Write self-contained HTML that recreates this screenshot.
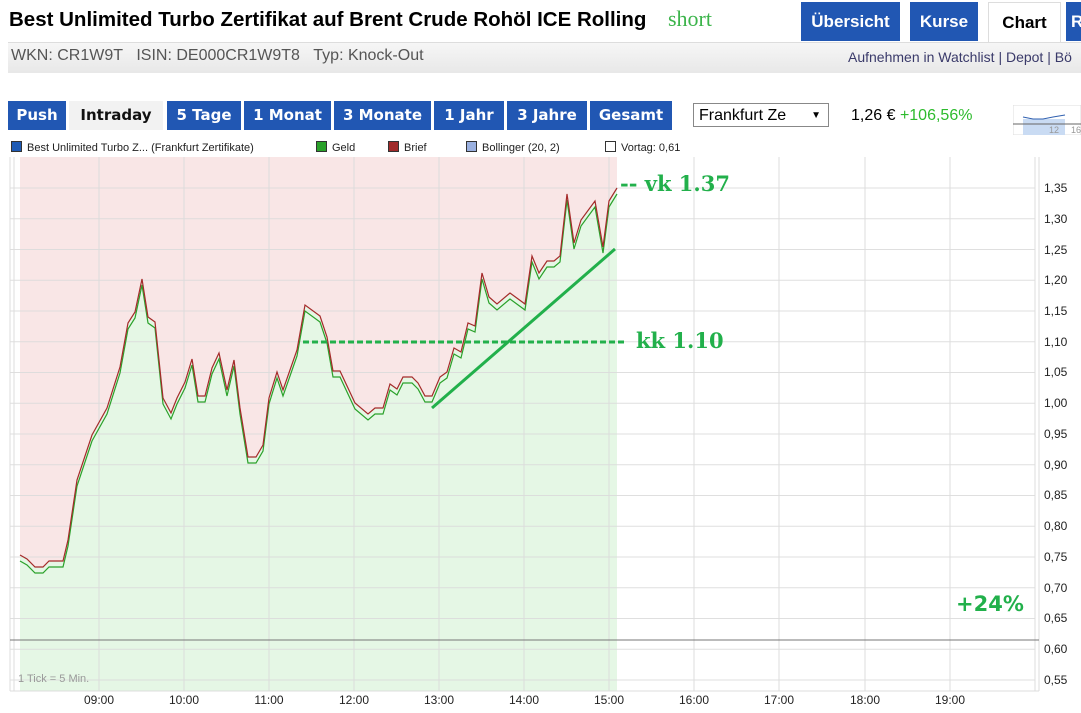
<!DOCTYPE html>
<html><head><meta charset="utf-8"><style>
body{margin:0;width:1081px;height:713px;overflow:hidden;background:#fff;font-family:"Liberation Sans",Arial,sans-serif;position:relative}
.a{position:absolute;white-space:nowrap}
.tab{position:absolute;background:#2157b3;color:#fff;font-weight:bold;font-size:17px;text-align:center;line-height:39px;top:2px;height:39px}
.pb{position:absolute;top:101px;height:29px;line-height:29px;background:#2157b3;color:#fff;font-weight:bold;font-size:15px;font-family:"DejaVu Sans",sans-serif;text-align:center}
.lg{position:absolute;top:141px;font-size:11px;color:#222}
.sq{display:inline-block;width:9px;height:9px;border:1px solid #333;margin-right:5px;vertical-align:-1px}
</style></head><body>
<div class="a" style="left:9px;top:8px;font-size:20.5px;font-weight:bold;color:#000">Best Unlimited Turbo Zertifikat auf Brent Crude Rohöl ICE Rolling</div>
<div class="a" style="left:668px;top:6px;font-size:22px;font-family:'Liberation Serif',serif;color:#3cb44b">short</div>
<div class="tab" style="left:801px;width:99px">Übersicht</div>
<div class="tab" style="left:910px;width:68px">Kurse</div>
<div class="tab" style="left:988px;width:71px;background:#fff;color:#000;border:1px solid #ddd;border-bottom:none">Chart</div>
<div class="tab" style="left:1066px;width:30px;text-align:left;padding-left:5px">Re</div>
<div class="a" style="left:8px;top:42px;width:1073px;height:30px;background:linear-gradient(#f6f6f6,#e8e8e8);border-top:1px solid #ddd"></div>
<div class="a" style="left:11px;top:47px;font-size:16px;color:#555">WKN: CR1W9T&nbsp;&nbsp;&nbsp;ISIN: DE000CR1W9T8&nbsp;&nbsp;&nbsp;Typ: Knock-Out</div>
<div class="a" style="left:848px;top:49px;font-size:14px;color:#3a3a6a">Aufnehmen in Watchlist | Depot | Bö</div>
<div class="pb" style="left:8px;width:58px">Push</div>
<div class="pb" style="left:69px;width:94px;background:#f2f2f2;color:#111">Intraday</div>
<div class="pb" style="left:167px;width:74px">5 Tage</div>
<div class="pb" style="left:244px;width:87px">1 Monat</div>
<div class="pb" style="left:334px;width:97px">3 Monate</div>
<div class="pb" style="left:434px;width:70px">1 Jahr</div>
<div class="pb" style="left:507px;width:80px">3 Jahre</div>
<div class="pb" style="left:590px;width:82px">Gesamt</div>
<div class="a" style="left:693px;top:103px;height:24px;border:1px solid #888;font-size:16px;line-height:24px;padding-left:5px;box-sizing:border-box;width:136px">Frankfurt Ze<span style="position:absolute;right:7px;font-size:10px">▼</span></div>
<div class="a" style="left:851px;top:107px;font-size:16px">1,26 € <span style="color:#2dbb2d">+106,56%</span></div>
<svg class="a" style="left:1013px;top:105px" width="68" height="30"><rect x="0" y="0" width="68" height="30" fill="#fff" stroke="#ddd"/><rect x="10" y="14" width="42" height="16" fill="#c9dbf3"/><polyline points="10,12 20,14 30,14 40,12 52,10" fill="none" stroke="#3060b0"/><line x1="0" y1="19" x2="68" y2="19" stroke="#666"/><text x="36" y="28" font-size="9" fill="#999">12</text><text x="58" y="28" font-size="9" fill="#999">16</text></svg>
<div class="lg" style="left:11px"><span class="sq" style="background:#1f5bb5"></span>Best Unlimited Turbo Z... (Frankfurt Zertifikate)</div>
<div class="lg" style="left:316px"><span class="sq" style="background:#2aa12a"></span>Geld</div>
<div class="lg" style="left:388px"><span class="sq" style="background:#a02a2a"></span>Brief</div>
<div class="lg" style="left:466px"><span class="sq" style="background:#9ab0e0"></span>Bollinger (20, 2)</div>
<div class="lg" style="left:605px"><span class="sq" style="background:#fff"></span>Vortag: 0,61</div>
<svg class="a" style="left:0;top:0" width="1081" height="713" font-family="Liberation Sans,Arial,sans-serif">
<defs>
<clipPath id="cl"><rect x="20" y="157" width="597" height="534"/></clipPath>
</defs>
<g clip-path="url(#cl)">
<rect x="20" y="157" width="597" height="534" fill="#e5f7e5"/>
<polygon fill="#f9e6e6" points="20,157 617,157 617,188 609,201 603,247 595,201 581,220 574,243 567,194 560,256 554,261 547,261 539,273 532,256 525,304 510,293 497,304 489,297 482,273 475,326 468,323 461,352 454,348 447,372 440,377 432,396 425,396 418,383 412,377 403,377 397,389 390,384 383,408 375,408 368,414 355,403 340,371 333,371 327,337 320,316 305,305 297,350 290,370 283,390 277,372 269,398 263,445 256,457 248,457 240,408 234,360 227,390 219,353 212,368 205,396 198,396 192,359 185,382 177,398 171,413 163,398 155,322 148,317 142,279 135,312 128,323 120,367 107,408 92,435 77,480 68,540 63,561 49,561 43,567 35,567 27,559 20,555"/>
</g>
<g stroke="#dcdcdc" stroke-width="1">
<line x1="10" y1="157" x2="10" y2="691"/><line x1="14" y1="157" x2="14" y2="691"/>
<line x1="99" y1="157" x2="99" y2="691"/><line x1="184" y1="157" x2="184" y2="691"/><line x1="269" y1="157" x2="269" y2="691"/><line x1="354" y1="157" x2="354" y2="691"/><line x1="439" y1="157" x2="439" y2="691"/><line x1="524" y1="157" x2="524" y2="691"/><line x1="609" y1="157" x2="609" y2="691"/><line x1="694" y1="157" x2="694" y2="691"/><line x1="779" y1="157" x2="779" y2="691"/><line x1="865" y1="157" x2="865" y2="691"/><line x1="950" y1="157" x2="950" y2="691"/>
<line x1="1035" y1="157" x2="1035" y2="691"/><line x1="1039" y1="157" x2="1039" y2="691"/>
<line x1="10" y1="691" x2="1039" y2="691"/>
</g>
<g stroke="#dcdcdc" opacity="0.9">
<line x1="10" y1="188" x2="1035" y2="188"/><line x1="10" y1="218.8" x2="1035" y2="218.8"/><line x1="10" y1="249.5" x2="1035" y2="249.5"/><line x1="10" y1="280.3" x2="1035" y2="280.3"/><line x1="10" y1="311" x2="1035" y2="311"/><line x1="10" y1="341.8" x2="1035" y2="341.8"/><line x1="10" y1="372.5" x2="1035" y2="372.5"/><line x1="10" y1="403.3" x2="1035" y2="403.3"/><line x1="10" y1="434" x2="1035" y2="434"/><line x1="10" y1="464.8" x2="1035" y2="464.8"/><line x1="10" y1="495.5" x2="1035" y2="495.5"/><line x1="10" y1="526.3" x2="1035" y2="526.3"/><line x1="10" y1="557" x2="1035" y2="557"/><line x1="10" y1="587.8" x2="1035" y2="587.8"/><line x1="10" y1="618.5" x2="1035" y2="618.5"/><line x1="10" y1="649.3" x2="1035" y2="649.3"/><line x1="10" y1="680" x2="1035" y2="680"/>
</g>
<line x1="10" y1="640" x2="1039" y2="640" stroke="#777" stroke-width="1"/>
<g fill="none" stroke-width="1.2">
<polyline transform="translate(0,6)" stroke="#2aa12a" points="20,555 27,559 35,567 43,567 49,561 63,561 68,540 77,480 92,435 107,408 120,367 128,323 135,312 142,279 148,317 155,322 163,398 171,413 177,398 185,382 192,359 198,396 205,396 212,368 219,353 227,390 234,360 240,408 248,457 256,457 263,445 269,398 277,372 283,390 290,370 297,350 305,305 320,316 327,337 333,371 340,371 355,403 368,414 375,408 383,408 390,384 397,389 403,377 412,377 418,383 425,396 432,396 440,377 447,372 454,348 461,352 468,323 475,326 482,273 489,297 497,304 510,293 525,304 532,256 539,273 547,261 554,261 560,256 567,194 574,243 581,220 595,201 603,247 609,201 617,188"/>
<polyline stroke="#a52a2a" points="20,555 27,559 35,567 43,567 49,561 63,561 68,540 77,480 92,435 107,408 120,367 128,323 135,312 142,279 148,317 155,322 163,398 171,413 177,398 185,382 192,359 198,396 205,396 212,368 219,353 227,390 234,360 240,408 248,457 256,457 263,445 269,398 277,372 283,390 290,370 297,350 305,305 320,316 327,337 333,371 340,371 355,403 368,414 375,408 383,408 390,384 397,389 403,377 412,377 418,383 425,396 432,396 440,377 447,372 454,348 461,352 468,323 475,326 482,273 489,297 497,304 510,293 525,304 532,256 539,273 547,261 554,261 560,256 567,194 574,243 581,220 595,201 603,247 609,201 617,188"/>
</g>
<line x1="432" y1="408" x2="615" y2="249" stroke="#22b04b" stroke-width="3"/>
<line x1="303" y1="342" x2="625" y2="342" stroke="#22b04b" stroke-width="3" stroke-dasharray="6,3"/>
<text x="620" y="191" font-family="DejaVu Serif,serif" font-weight="bold" font-size="21" fill="#22b04b">-- vk 1.37</text>
<text x="636" y="348" font-family="DejaVu Serif,serif" font-weight="bold" font-size="21" fill="#22b04b">kk 1.10</text>
<text x="956" y="611" font-family="DejaVu Sans,sans-serif" font-weight="bold" font-size="21" fill="#22b04b">+24%</text>
<text x="18" y="682" font-size="11" fill="#999">1 Tick = 5 Min.</text>
<g font-size="12" fill="#222">
<text x="1044" y="192">1,35</text><text x="1044" y="223">1,30</text><text x="1044" y="254">1,25</text><text x="1044" y="284">1,20</text><text x="1044" y="315">1,15</text><text x="1044" y="346">1,10</text><text x="1044" y="376">1,05</text><text x="1044" y="407">1,00</text><text x="1044" y="438">0,95</text><text x="1044" y="469">0,90</text><text x="1044" y="499">0,85</text><text x="1044" y="530">0,80</text><text x="1044" y="561">0,75</text><text x="1044" y="592">0,70</text><text x="1044" y="622">0,65</text><text x="1044" y="653">0,60</text><text x="1044" y="684">0,55</text>
</g>
<g font-size="12" fill="#222" text-anchor="middle">
<text x="99" y="704">09:00</text><text x="184" y="704">10:00</text><text x="269" y="704">11:00</text><text x="354" y="704">12:00</text><text x="439" y="704">13:00</text><text x="524" y="704">14:00</text><text x="609" y="704">15:00</text><text x="694" y="704">16:00</text><text x="779" y="704">17:00</text><text x="865" y="704">18:00</text><text x="950" y="704">19:00</text>
</g>
</svg>
</body></html>
